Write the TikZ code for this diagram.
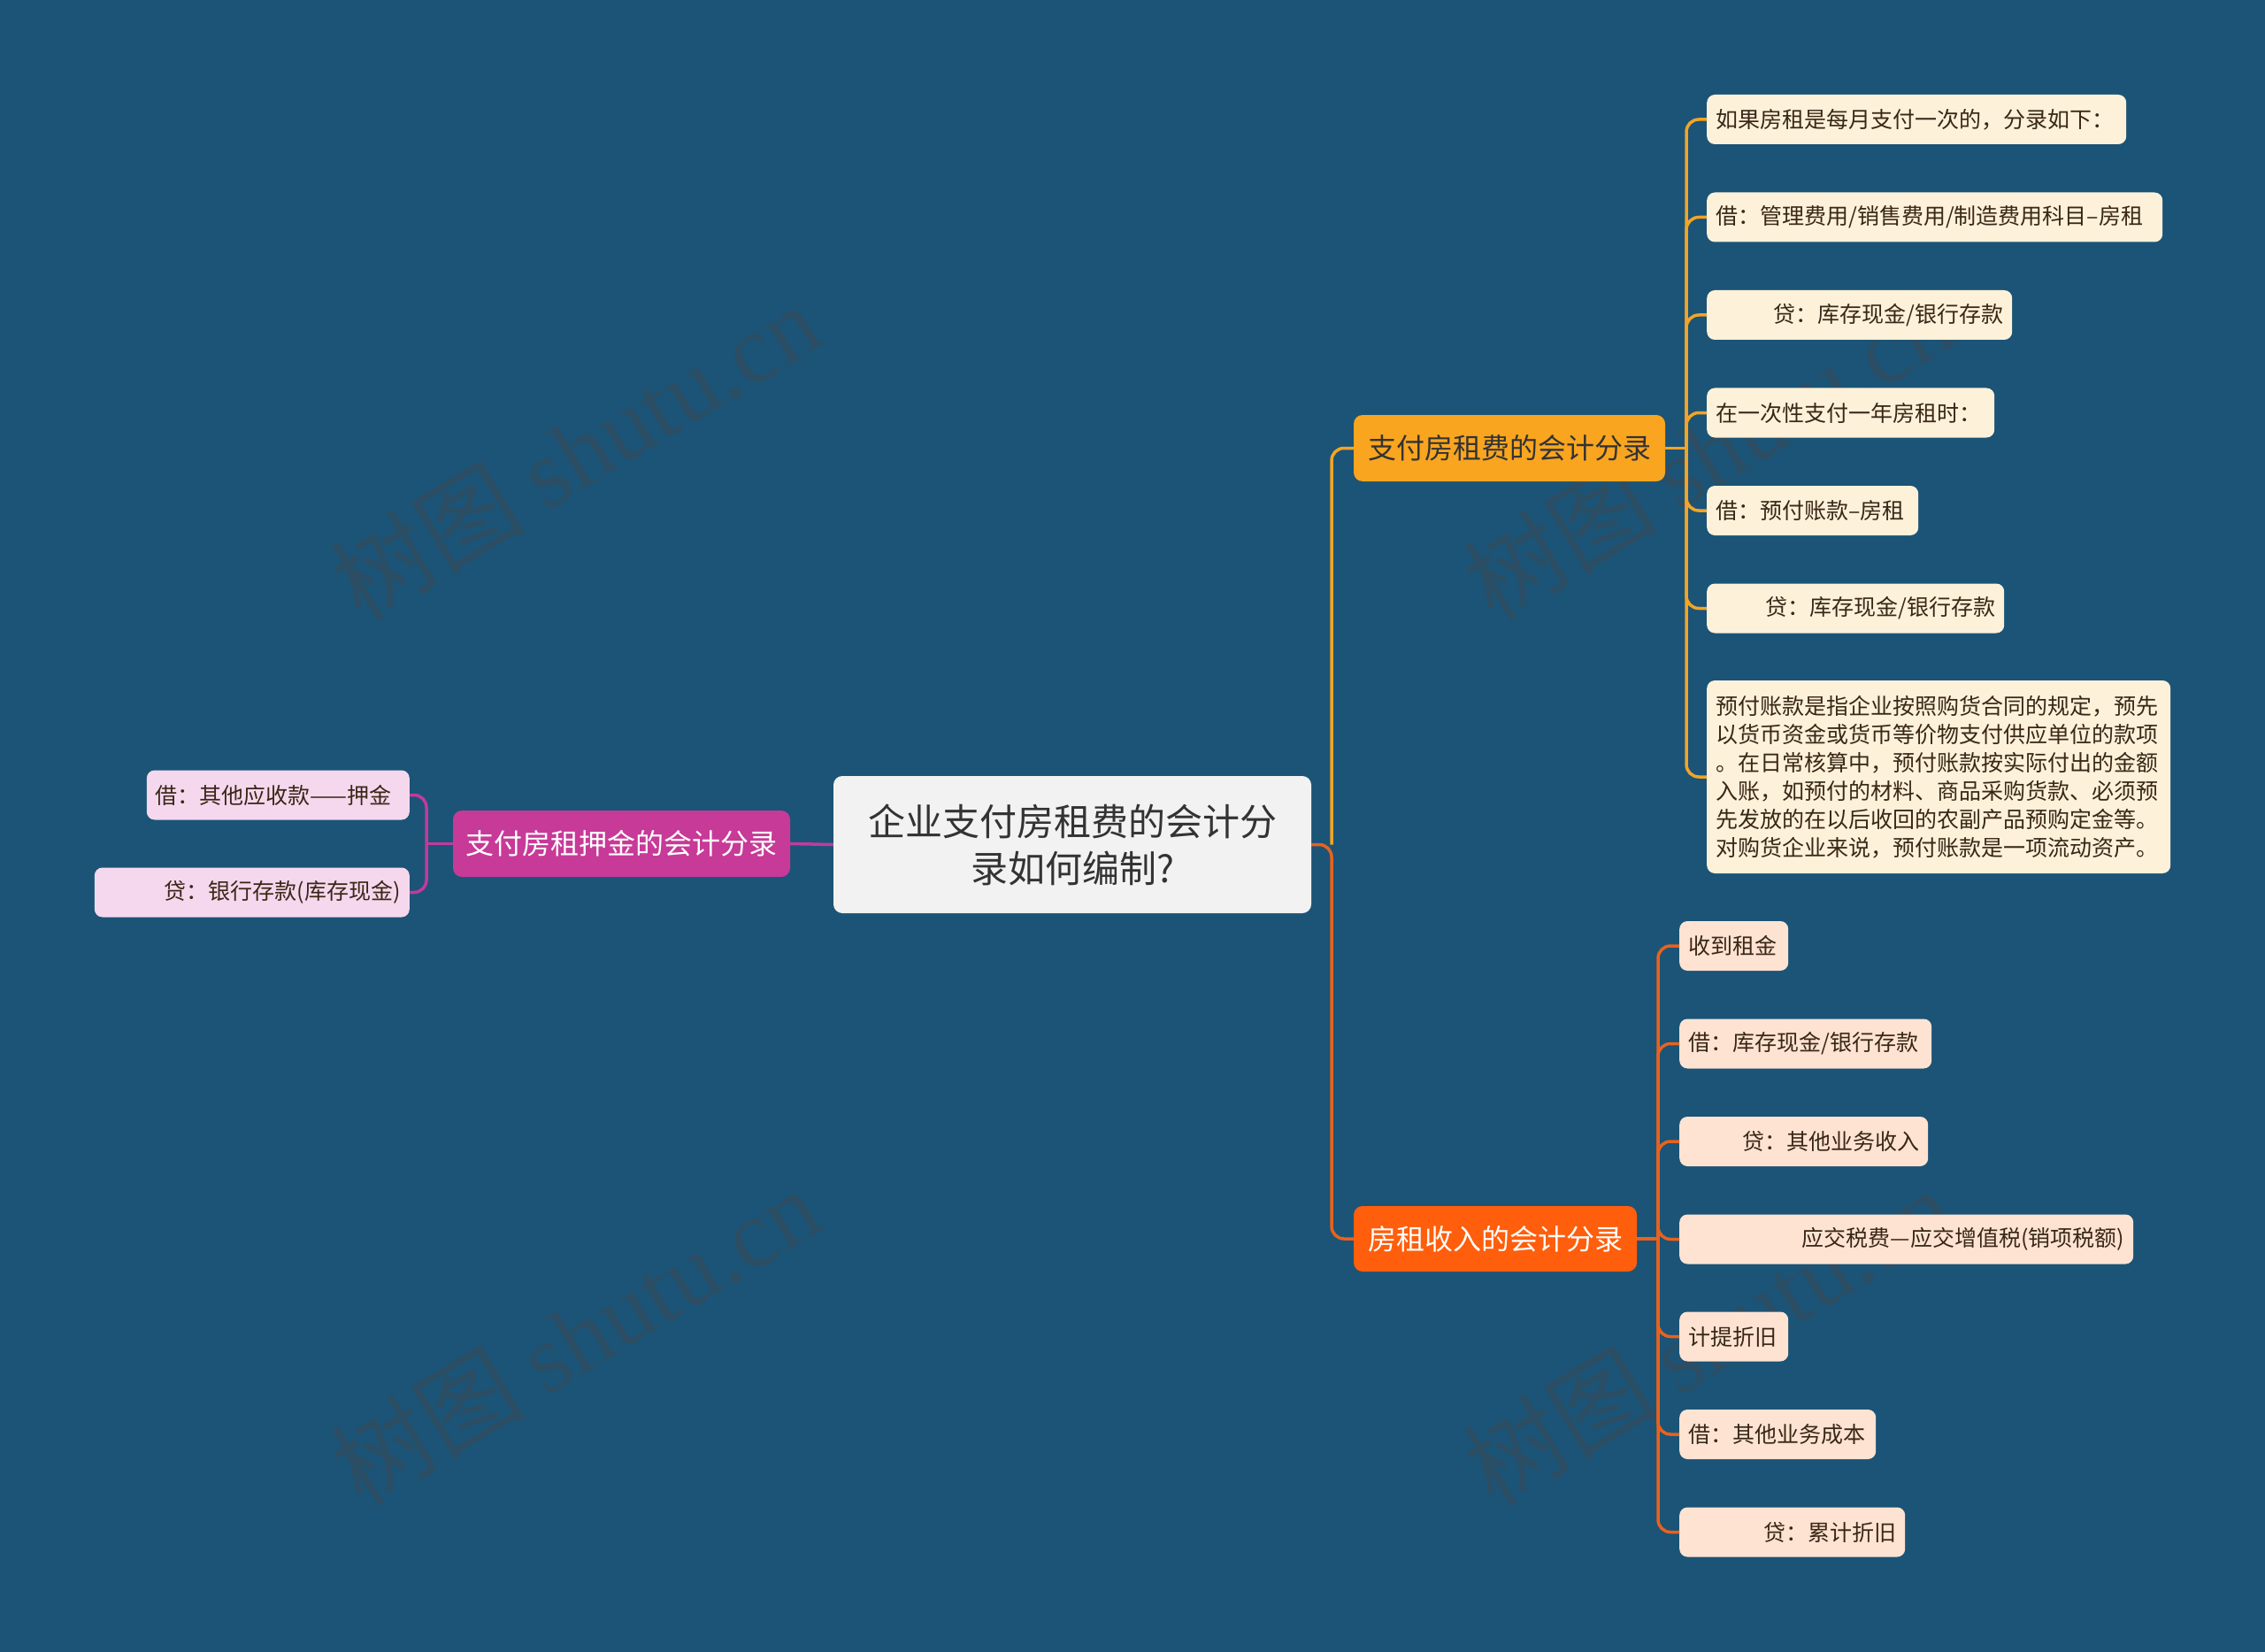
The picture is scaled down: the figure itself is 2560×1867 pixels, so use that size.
\documentclass[tikz,border=0pt]{standalone}
\usepackage{fontspec}
\setmainfont{Noto Sans CJK SC}
\newfontfamily\wmserif{Liberation Serif}
\usetikzlibrary{positioning}
\definecolor{bgc}{HTML}{1B5476}
\definecolor{rootfill}{HTML}{F2F2F2}
\definecolor{roottext}{HTML}{333333}
\definecolor{tbfill}{HTML}{F9A51F}
\definecolor{tbline}{HTML}{F2A428}
\definecolor{bbfill}{HTML}{FF5E0C}
\definecolor{bbline}{HTML}{E8621E}
\definecolor{lbfill}{HTML}{C73A98}
\definecolor{lbline}{HTML}{C23A9C}
\definecolor{tleaf}{HTML}{FDF1DA}
\definecolor{bleaf}{HTML}{FEE3D3}
\definecolor{lleaf}{HTML}{F5D8EE}
\definecolor{leaftext}{HTML}{3A2716}
\definecolor{wmc}{RGB}{55,75,90}
\tikzset{
  leafbox/.style={rounded corners=9pt, inner xsep=10pt, inner ysep=0pt,
    minimum height=56pt, font=\fontsize{25}{32}\selectfont, text=leaftext},
  tleafbox/.style={leafbox, fill=tleaf, anchor=west},
  bleafbox/.style={leafbox, fill=bleaf, anchor=west},
  lleafbox/.style={leafbox, fill=lleaf, anchor=east},
  branchbox/.style={rounded corners=10pt, inner sep=0pt, font=\fontsize{32}{38}\selectfont},
  link/.style={line width=3.5pt, rounded corners=14pt},
  wmark/.style={rotate=31, text=wmc, opacity=0.6, font=\fontsize{110}{120}\selectfont}
}
\begin{document}
\begin{tikzpicture}[x=1pt,y=-1pt]
\useasboundingbox (0,0) rectangle (2560,1867);
\fill[bgc] (0,0) rectangle (2560,1867);

% watermarks
\node[wmark] (wm1) at (650,510) {树图 {\wmserif shutu.cn}};
\node[wmark] (wm2) at (650,1510) {树图 {\wmserif shutu.cn}};
\node[wmark] (wm3) at (1930,510) {树图 {\wmserif shutu.cn}};
\node[wmark] (wm4) at (1930,1510) {树图 {\wmserif shutu.cn}};

% root and branches
\node[rounded corners=10pt, fill=rootfill, text=roottext, minimum width=540pt, minimum height=155pt,
  inner sep=0pt, align=center, font=\fontsize{42}{53}\selectfont] (root) at (1212,954.5)
  {企业支付房租费的会计分\\录如何编制?};
\node[branchbox, fill=lbfill, text=white, minimum width=381pt, minimum height=75pt] (lb) at (702.5,953.5) {支付房租押金的会计分录};
\node[branchbox, fill=tbfill, text=roottext, minimum width=352pt, minimum height=75pt] (tb) at (1706,506.5) {支付房租费的会计分录};
\node[branchbox, fill=bbfill, text=white, minimum width=320pt, minimum height=74pt] (bb) at (1690,1400) {房租收入的会计分录};

% left leaves
\node[lleafbox, text width=277pt, align=left] (l1) at (463,898.5) {借：其他应收款——押金};
\node[lleafbox, text width=336pt, align=right] (l2) at (463,1008.5) {贷：银行存款(库存现金)};

% top leaves
\node[tleafbox, text width=454pt, align=left] (t1) at (1929,135) {如果房租是每月支付一次的，分录如下：};
\node[tleafbox, text width=495pt, align=left] (t2) at (1929,245.5) {借：管理费用/销售费用/制造费用科目–房租};
\node[tleafbox, text width=325pt, align=right] (t3) at (1929,356) {贷：库存现金/银行存款};
\node[tleafbox, text width=305pt, align=left] (t4) at (1929,466.5) {在一次性支付一年房租时：};
\node[tleafbox, text width=219pt, align=left] (t5) at (1929,577) {借：预付账款–房租};
\node[tleafbox, text width=316pt, align=right] (t6) at (1929,687.5) {贷：库存现金/银行存款};
\node[tleafbox, text width=504pt, align=left, minimum height=218pt] (t7) at (1929,878)
  {预付账款是指企业按照购货合同的规定，预先\\以货币资金或货币等价物支付供应单位的款项\\。在日常核算中，预付账款按实际付出的金额\\入账，如预付的材料、商品采购货款、必须预\\先发放的在以后收回的农副产品预购定金等。\\对购货企业来说，预付账款是一项流动资产。};

% bottom leaves
\node[bleafbox, text width=103pt, align=left] (b1) at (1898,1069) {收到租金};
\node[bleafbox, text width=265pt, align=left] (b2) at (1898,1179.5) {借：库存现金/银行存款};
\node[bleafbox, text width=261pt, align=right] (b3) at (1898,1290) {贷：其他业务收入};
\node[bleafbox, text width=493pt, align=right] (b4) at (1898,1400.5) {应交税费—应交增值税(销项税额)};
\node[bleafbox, text width=103pt, align=left] (b5) at (1898,1510.5) {计提折旧};
\node[bleafbox, text width=202pt, align=left] (b6) at (1898,1621) {借：其他业务成本};
\node[bleafbox, text width=235pt, align=right] (b7) at (1898,1731.5) {贷：累计折旧};

% junction coordinates
\coordinate (rj) at (1505,954.5);
\coordinate (lj) at (482,953.5);
\coordinate (tj) at (1906,506.5);
\coordinate (bj) at (1874,1400);

% connectors (behind nodes is fine as they end at borders)
\draw[link, tbline] (rj) |- (tb.west);
\draw[link, bbline] (root.east) -- (rj) |- (bb.west);
\draw[link, lbline] (root.west) -- (lb.east);
\draw[link, lbline] (lb.west) -- (lj);
\draw[link, lbline] (lj) |- (l1.east);
\draw[link, lbline] (lj) |- (l2.east);

\draw[link, tbline] (tb.east) -- (tj);
\foreach \n in {t1,t2,t3,t4,t5,t6,t7}{\draw[link, tbline] (tj) |- (\n.west);}

\draw[link, bbline] (bb.east) -- (bj);
\foreach \n in {b1,b2,b3,b4,b5,b6,b7}{\draw[link, bbline] (bj) |- (\n.west);}
\end{tikzpicture}
\end{document}
